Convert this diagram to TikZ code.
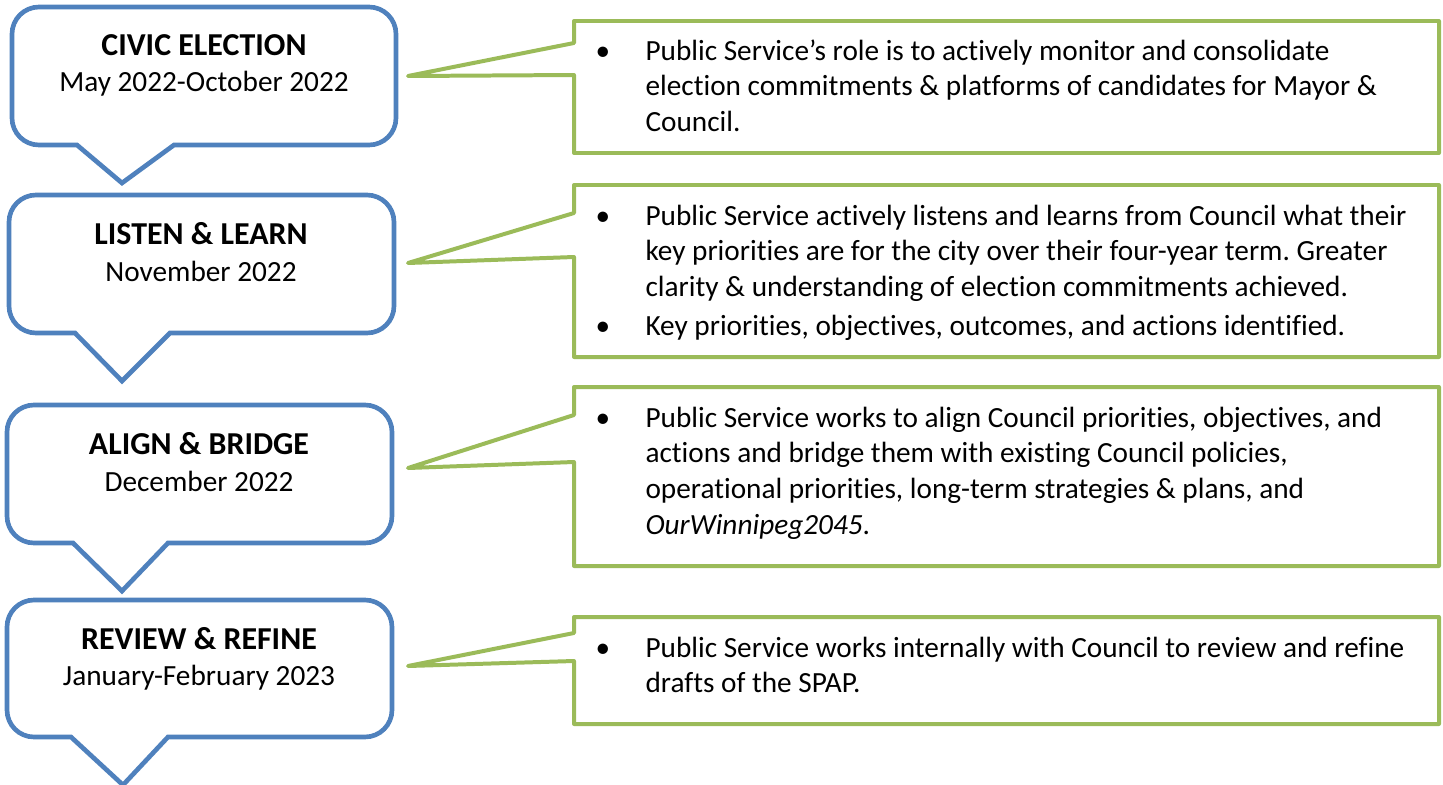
\documentclass[tikz,border=0pt]{standalone}
\usepackage{fontspec}
\setmainfont{Carlito}[Ligatures={NoCommon}]
\frenchspacing
\definecolor{cblue}{HTML}{4F81BD}
\definecolor{cgreen}{HTML}{9BBB59}
% #1 name, #2 top, #3 bottom, #4 left, #5 right, #6 tail left, #7 tail right, #8 tip x, #9 tip y
\newcommand\bluecallout[9]{%
  \draw[bluecall] (#7,#3) -- (#5-27,#3) arc[start angle=90,end angle=0,radius=27]
    -- (#5,#2+27) arc[start angle=0,end angle=-90,radius=27]
    -- (#4+27,#2) arc[start angle=270,end angle=180,radius=27]
    -- (#4,#3-27) arc[start angle=180,end angle=90,radius=27]
    -- (#6,#3) -- (#8,#9) coordinate (#1tip) -- cycle;
  \coordinate (#1) at ({(#4+#5)/2},{(#2+#3)/2});}
% #1 name, #2 top, #3 bottom, #4 opening top, #5 opening bottom, #6 pointer tip (named coordinate)
\newcommand\greencallout[6]{%
  \draw[greencall] (574,#2) -- (1439,#2) -- (1439,#3) -- (574,#3) -- (574,#5)
    -- (#6) -- (574,#4) -- cycle;
  \coordinate (#1) at (1006,{(#2+#3)/2});}
\begin{document}
\begin{tikzpicture}[x=0.3759pt,y=-0.3759pt,
  bluecall/.style={draw=cblue,line width=1.75pt,line join=miter,fill=white},
  greencall/.style={draw=cgreen,line width=1.5pt,line join=round,fill=white},
  ttl/.style={anchor=base,inner sep=0pt,font=\fontsize{12pt}{14.5pt}\selectfont\bfseries},
  dte/.style={anchor=base,inner sep=0pt,font=\fontsize{11pt}{13.5pt}\selectfont},
  itm/.style={anchor=base west,inner sep=0pt,font=\fontsize{11pt}{13.5pt}\selectfont},
  bul/.style={anchor=base,inner sep=0pt,font=\fontsize{11pt}{13.5pt}\selectfont}]
\useasboundingbox (0,0) rectangle (1443,785);

% blue callouts (stages)
\bluecallout{b1}{7}{145}{12}{396}{77}{174}{122}{183}
\bluecallout{b2}{195}{333}{9}{394}{75}{170}{122}{381}
\bluecallout{b3}{405}{543}{7}{392}{73}{168}{122}{591}
\bluecallout{b4}{600}{737}{7}{392}{71}{168}{123}{785}

\node[ttl] (t1) at (204,55) {CIVIC ELECTION};
\node[dte] (d1) at (204,91.5) {May 2022-October 2022};
\node[ttl] (t2) at (201,244) {LISTEN \& LEARN};
\node[dte] (d2) at (201,281) {November 2022};
\node[ttl] (t3) at (199,454) {ALIGN \& BRIDGE};
\node[dte] (d3) at (199,491) {December 2022};
\node[ttl] (t4) at (199,649) {REVIEW \& REFINE};
\node[dte] (d4) at (199,685.5) {January-February 2023};

% pointer tips next to the stage boxes
\coordinate (p1) at (408,76);
\coordinate (p2) at (408,263);
\coordinate (p3) at (408,468);
\coordinate (p4) at (408,666);

% green callouts (descriptions)
\greencallout{g1}{21}{153}{43}{75}{p1}
\greencallout{g2}{185}{357}{213}{257}{p2}
\greencallout{g3}{387}{566}{415}{462}{p3}
\greencallout{g4}{617}{724}{633}{661}{p4}

\node[bul] (g1b1) at (603,60) {\textbullet};
\node[itm] (g1i1) at (645,60) {\begin{tabular}[t]{@{}l@{}}Public Service’s role is to actively monitor and consolidate\\election commitments \& platforms of candidates for Mayor \&\\Council.\end{tabular}};

\node[bul] (g2b1) at (603,225) {\textbullet};
\node[itm] (g2i1) at (645,225) {\begin{tabular}[t]{@{}l@{}}Public Service actively listens and learns from Council what their\\key priorities are for the city over their four-year term. Greater\\clarity \& understanding of election commitments achieved.\end{tabular}};
\node[bul] (g2b2) at (603,335) {\textbullet};
\node[itm] (g2i2) at (645,335) {Key priorities, objectives, outcomes, and actions identified.};

\node[bul] (g3b1) at (603,427) {\textbullet};
\node[itm] (g3i1) at (645,427) {\begin{tabular}[t]{@{}l@{}}Public Service works to align Council priorities, objectives, and\\actions and bridge them with existing Council policies,\\operational priorities, long-term strategies \& plans, and\\\textit{OurWinnipeg2045}.\end{tabular}};

\node[bul] (g4b1) at (603,657) {\textbullet};
\node[itm] (g4i1) at (645,657) {\begin{tabular}[t]{@{}l@{}}Public Service works internally with Council to review and refine\\drafts of the SPAP.\end{tabular}};
\end{tikzpicture}
\end{document}
